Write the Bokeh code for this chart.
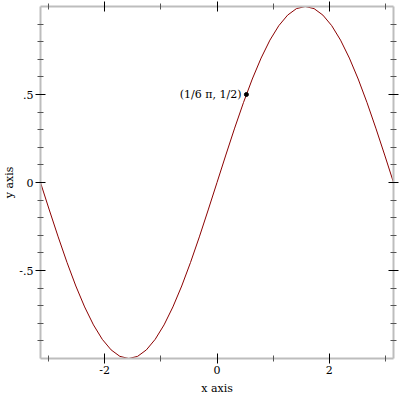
from bokeh.plotting import figure
from bokeh.models import Range1d, LinearAxis, FixedTicker, ColumnDataSource
from bokeh.core.properties import value
from bokeh.embed import file_html
from bokeh.resources import INLINE

xs = [-3.142, -2.985, -2.827, -2.670, -2.513, -2.356, -2.199, -2.042, -1.885, -1.728,
      -1.571, -1.414, -1.257, -1.100, -0.942, -0.785, -0.628, -0.471, -0.314, -0.157,
      0.000, 0.157, 0.314, 0.471, 0.628, 0.785, 0.942, 1.100, 1.257, 1.414,
      1.571, 1.728, 1.885, 2.042, 2.199, 2.356, 2.513, 2.670, 2.827, 2.985, 3.142]
ys = [0.000, -0.156, -0.309, -0.454, -0.588, -0.707, -0.809, -0.891, -0.951, -0.988,
      -1.000, -0.988, -0.951, -0.891, -0.809, -0.707, -0.588, -0.454, -0.309, -0.156,
      0.000, 0.156, 0.309, 0.454, 0.588, 0.707, 0.809, 0.891, 0.951, 0.988,
      1.000, 0.988, 0.951, 0.891, 0.809, 0.707, 0.588, 0.454, 0.309, 0.156, 0.000]

point_x = [0.5236]
point_y = [0.5]
point_label = ["(1/6 \u03c0, 1/2)"]

x_major = [-2, 0, 2]
x_minor = [-3, -1, 1, 3]
x_labels = {-2: "-2", 0: "0", 2: "2"}
y_major = [-0.5, 0, 0.5]
y_minor = [-0.9, -0.8, -0.7, -0.6, -0.4, -0.3, -0.2, -0.1,
           0.1, 0.2, 0.3, 0.4, 0.6, 0.7, 0.8, 0.9]
y_labels = {-0.5: "-.5", 0: "0", 0.5: ".5"}

FONT = "DejaVu Serif"

p = figure(width=400, height=400, output_backend="svg", toolbar_location=None,
           x_range=Range1d(-3.1416, 3.1416), y_range=Range1d(-1, 1),
           x_axis_location=None, y_axis_location=None,
           min_border_left=40, min_border_right=7, min_border_top=6,
           min_border_bottom=42)
p.outline_line_color = None
p.background_fill_color = "white"
p.border_fill_color = "white"
p.xgrid.visible = False
p.ygrid.visible = False

p.line(xs, ys, line_color="#8b0000", line_width=1)
src = ColumnDataSource(dict(x=point_x, y=point_y, t=point_label))
p.scatter("x", "y", source=src, size=4, color="black")
p.text("x", "y", text="t", source=src, text_align="right", text_baseline="middle",
       x_offset=-5, text_font=value(FONT), text_font_size="11px", text_color="black")

bottom = LinearAxis(ticker=FixedTicker(ticks=x_major, minor_ticks=x_minor),
                    major_label_overrides=x_labels, axis_label="x axis")
left = LinearAxis(ticker=FixedTicker(ticks=y_major, minor_ticks=y_minor),
                  major_label_overrides=y_labels, axis_label="y axis")
top = LinearAxis(ticker=FixedTicker(ticks=x_major, minor_ticks=x_minor),
                 major_label_overrides={-2: "", 0: "", 2: ""})
right = LinearAxis(ticker=FixedTicker(ticks=y_major, minor_ticks=y_minor),
                   major_label_overrides={-0.5: "", 0: "", 0.5: ""})
p.add_layout(bottom, "below")
p.add_layout(left, "left")
p.add_layout(top, "above")
p.add_layout(right, "right")

for ax in [bottom, left, top, right]:
    ax.axis_line_color = "#bdbdbd"
    ax.axis_line_width = 2
    ax.major_tick_line_color = "black"
    ax.major_tick_in = 5
    ax.major_tick_out = 5
    ax.minor_tick_line_color = "#555555"
    ax.minor_tick_in = 3
    ax.minor_tick_out = 3
    ax.major_label_text_font = FONT
    ax.major_label_text_font_size = "11px"
    ax.major_label_text_color = "black"
    ax.axis_label_text_font = FONT
    ax.axis_label_text_font_size = "11px"
    ax.axis_label_text_font_style = "normal"
    ax.axis_label_text_color = "black"

bottom.major_label_standoff = 2
bottom.axis_label_standoff = 5
left.major_label_standoff = 2
left.axis_label_standoff = 0
for ax in [top, right]:
    ax.major_label_standoff = 0
    ax.major_label_text_font_size = "0px"

open("out.html", "w").write(file_html(p, INLINE))
